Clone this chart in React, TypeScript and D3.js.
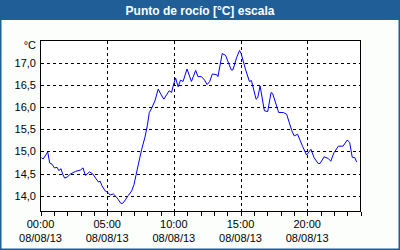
import React from "react";
import * as d3 from "d3";

const TITLE = "Punto de rocío [°C] escala";
const UNIT = "°C";
const DAY = "08/08/13";

// hour of day (08/08/13)
const hours = [
  0.07, 0.2, 0.54, 0.69, 0.87, 1.04, 1.25, 1.37, 1.54, 1.66, 1.81, 1.99, 2.24, 2.61, 2.99, 3.19,
  3.36, 3.49, 3.68, 3.93, 4.13, 4.35, 4.48, 4.6, 4.85, 5.02, 5.22, 5.47, 5.67, 5.84, 6.02, 6.17,
  6.37, 6.59, 6.84, 7.01, 7.16, 7.34, 7.59, 7.84, 8.01, 8.16, 8.34, 8.58, 8.83, 9.01, 9.25, 9.46,
  9.65, 9.83, 9.95, 10.13, 10.32, 10.5, 10.69, 10.99, 11.32, 11.64, 11.81, 12.07, 12.31, 12.49,
  12.69, 12.89, 13.23, 13.31, 13.63, 13.88, 14.31, 14.43, 14.72, 14.93, 15.05, 15.37, 15.67,
  15.82, 16.17, 16.29, 16.47, 16.79, 17.04, 17.29, 17.41, 17.86, 18.21, 18.46, 18.86, 19.03,
  19.28, 19.65, 19.95, 20.28, 20.52, 20.82, 20.97, 21.27, 21.59, 21.77, 22.01, 22.34, 22.69,
  23.01, 23.19, 23.38, 23.58, 23.71,
];

// dew point [°C]
const dewPoint = [
  14.86, 14.83, 14.99, 14.74, 14.71, 14.63, 14.64, 14.57, 14.61, 14.49, 14.4, 14.42, 14.49, 14.55,
  14.58, 14.63, 14.46, 14.49, 14.54, 14.49, 14.4, 14.31, 14.33, 14.23, 14.11, 14.08, 14.02, 14.04,
  13.98, 13.91, 13.83, 13.83, 13.91, 14.01, 14.11, 14.25, 14.46, 14.71, 15.05, 15.33, 15.58,
  15.88, 15.98, 16.14, 16.41, 16.3, 16.18, 16.28, 16.37, 16.33, 16.48, 16.66, 16.46, 16.61,
  16.58, 16.86, 16.58, 16.83, 16.69, 16.69, 16.61, 16.51, 16.58, 16.75, 16.73, 16.69, 17.21,
  17.17, 16.84, 16.84, 17.13, 17.28, 17.21, 16.86, 16.58, 16.6, 16.18, 16.21, 16.48, 15.92, 15.9,
  16.33, 16.31, 15.88, 15.88, 15.84, 15.46, 15.35, 15.39, 15.12, 14.92, 15.05, 14.86, 14.73,
  14.73, 14.88, 14.84, 14.78, 14.97, 15.12, 15.12, 15.26, 15.2, 14.87, 14.86, 14.76,
];

const yTicks = [14.0, 14.5, 15.0, 15.5, 16.0, 16.5, 17.0];
const xTickHours = [0, 5, 10, 15, 20];

const W = 400;
const H = 250;
const FONT = "'Liberation Sans', Arial, sans-serif";
const BLUE = "#1f5e96";

export default function App() {
  const left = 40.5;
  const right = 360.5;
  const top = 40.5;
  const bottom = 211.5;

  const base = Date.UTC(2013, 7, 8);
  const toDate = (h: number) => new Date(base + h * 3600000);

  const x = d3.scaleUtc().domain([toDate(0), toDate(24)]).range([left, right]);
  const y = d3.scaleLinear().domain([13.645, 17.505]).range([bottom, top]);

  const pts: [Date, number][] = hours.map((h, i) => [toDate(h), dewPoint[i]]);
  const line = d3
    .line<[Date, number]>()
    .x((d) => x(d[0]))
    .y((d) => y(d[1]));

  const minorTicks = x.ticks(d3.utcHour.every(1)!);
  const fmtTime = d3.utcFormat("%H:%M");
  const fmtNum = (v: number) => v.toFixed(1).replace(".", ",");

  return (
    <svg
      width={W}
      height={H}
      style={{ position: "absolute", left: 0, top: 0, display: "block" }}
      fontFamily={FONT}
    >
      <rect x={0} y={0} width={W} height={H} fill="#fbfefb" />
      <rect x={0} y={0} width={W} height={20} fill={BLUE} />
      <rect x={0.75} y={0.75} width={W - 1.5} height={H - 1.5} fill="none" stroke={BLUE} strokeWidth={1.5} />
      <text x={W / 2} y={15} textAnchor="middle" fill="#ffffff" fontWeight="bold" fontSize={12}>
        {TITLE}
      </text>

      <rect x={left} y={top} width={right - left} height={bottom - top} fill="#ffffff" />

      {/* grid */}
      <g stroke="#000" strokeWidth={1} strokeDasharray="3,3" shapeRendering="crispEdges">
        {yTicks.map((t) => (
          <line key={"gy" + t} x1={left} x2={right} y1={Math.round(y(t)) + 0.5} y2={Math.round(y(t)) + 0.5} />
        ))}
        {xTickHours
          .filter((h) => h > 0)
          .map((h) => (
            <line
              key={"gx" + h}
              x1={Math.round(x(toDate(h))) + 0.5}
              x2={Math.round(x(toDate(h))) + 0.5}
              y1={top}
              y2={bottom}
            />
          ))}
      </g>

      <path d={line(pts) || ""} fill="none" stroke="#0000ff" strokeWidth={1} />

      <rect
        x={left}
        y={top}
        width={right - left}
        height={bottom - top}
        fill="none"
        stroke="#000"
        strokeWidth={1}
        shapeRendering="crispEdges"
      />

      {/* x minor ticks */}
      <g stroke="#000" strokeWidth={1} shapeRendering="crispEdges">
        {minorTicks.map((d, i) => (
          <line
            key={"mt" + i}
            x1={Math.round(x(d)) + 0.5}
            x2={Math.round(x(d)) + 0.5}
            y1={bottom}
            y2={bottom + 4}
          />
        ))}
      </g>

      {/* x labels */}
      <g fontSize={11} fill="#000" textAnchor="middle">
        {xTickHours.map((h) => (
          <g key={"xl" + h}>
            <text x={x(toDate(h))} y={228}>
              {fmtTime(toDate(h))}
            </text>
            <text x={x(toDate(h))} y={242}>
              {DAY}
            </text>
          </g>
        ))}
      </g>

      {/* y labels */}
      <g fontSize={11} fill="#000" textAnchor="end">
        {yTicks.map((t) => (
          <text key={"yl" + t} x={36} y={y(t) + 4}>
            {fmtNum(t)}
          </text>
        ))}
        <text x={36} y={49}>
          {UNIT}
        </text>
      </g>
    </svg>
  );
}
